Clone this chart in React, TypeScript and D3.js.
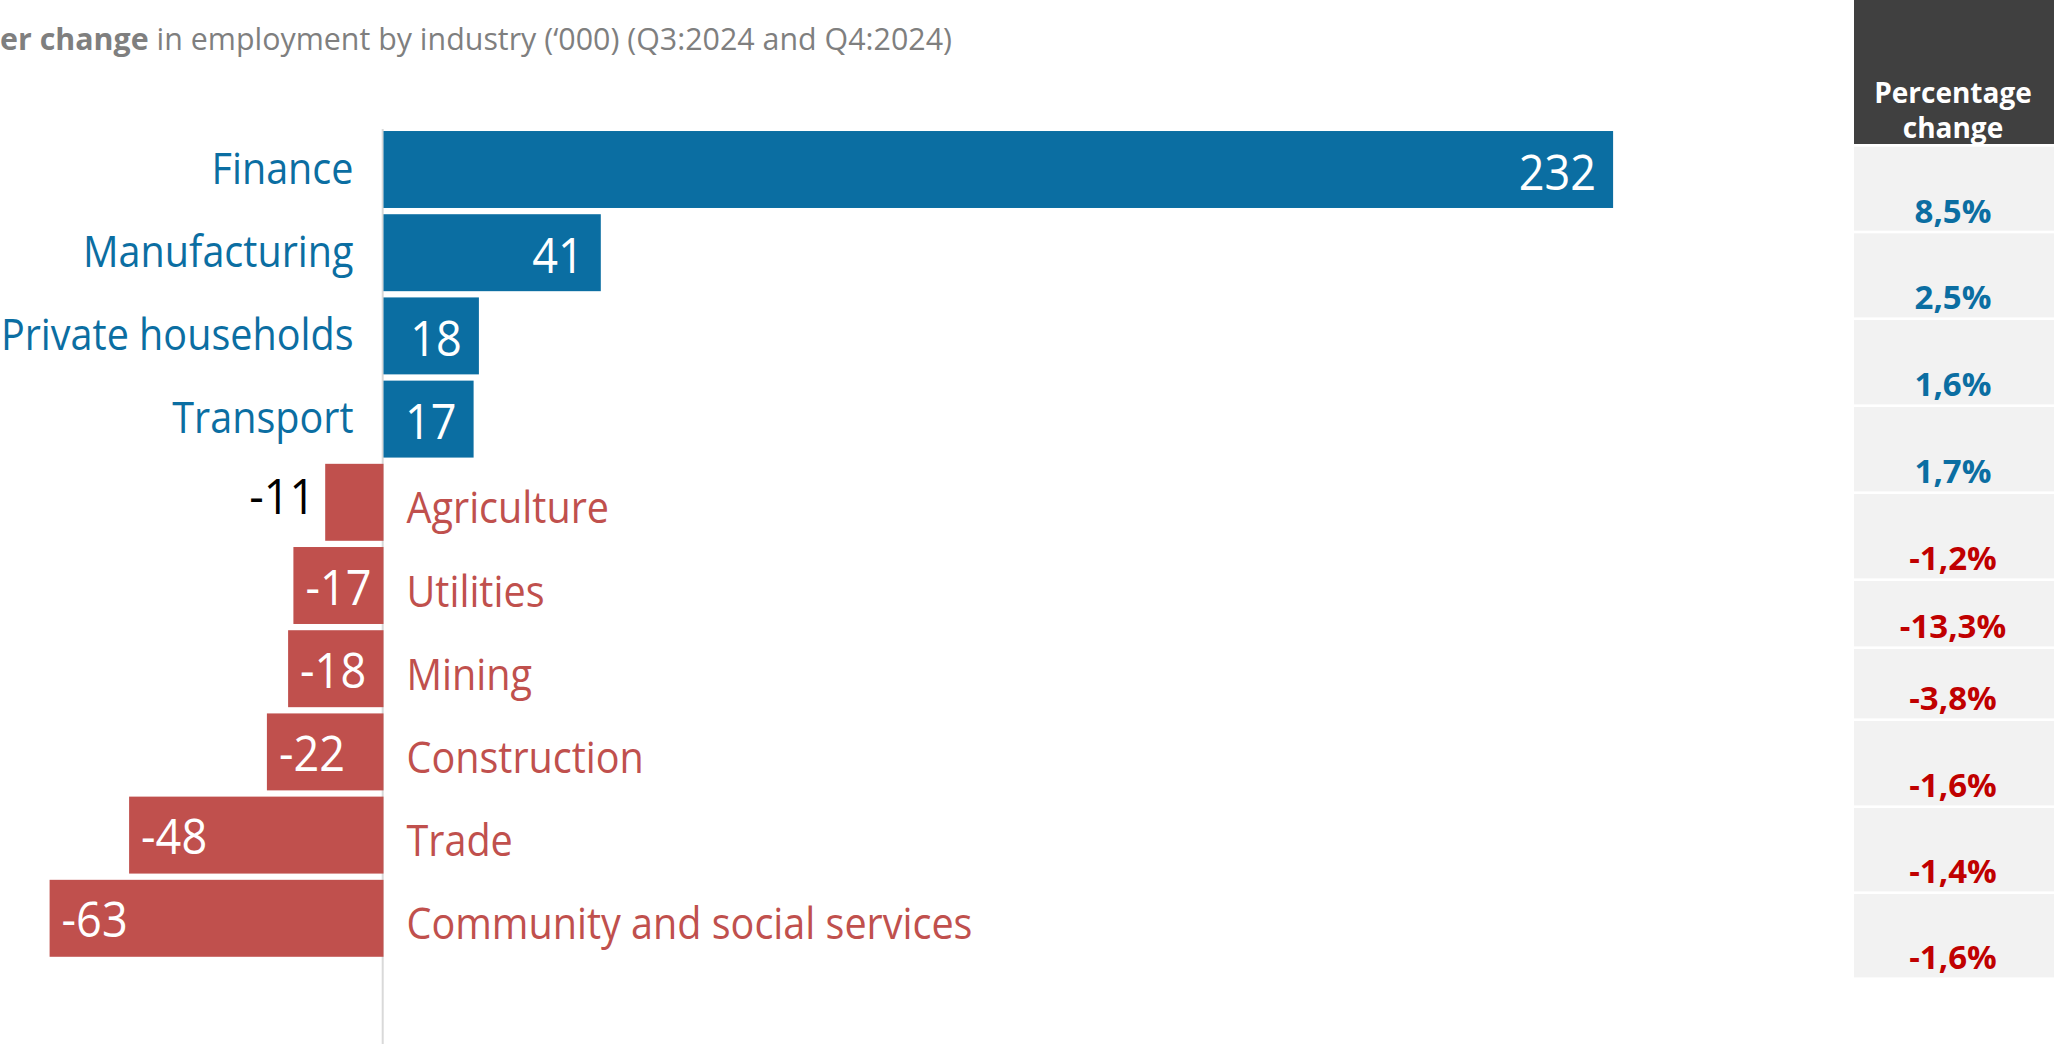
import React from "react";
import * as d3 from "d3";

// ---- data ----
const categories = [
  "Finance",
  "Manufacturing",
  "Private households",
  "Transport",
  "Agriculture",
  "Utilities",
  "Mining",
  "Construction",
  "Trade",
  "Community and social services",
];
const changes = [232, 41, 18, 17, -11, -17, -18, -22, -48, -63];
const pctChanges = [8.5, 2.5, 1.6, 1.7, -1.2, -13.3, -3.8, -1.6, -1.4, -1.6];
const titleBold = "er change";
const titleRest = " in employment by industry (\u2018000) (Q3:2024 and Q4:2024)";
const tableHeader = ["Percentage", "change"];

// ---- layout / style ----
const W = 2054;
const H = 1044;
const BLUE = "#0b6ea2";
const RED = "#c0504d";
const PCT_RED = "#c00000";
const FONT = "'Open Sans', 'Noto Sans', sans-serif";
const tableRowHeights = [86.6, 86.7, 87, 87, 87, 68, 72, 87, 86, 86];
const rowGap = 2.6;

export default function App() {
  const zeroX = 383.5;
  const unit = 5.3;
  const x = d3.scaleLinear().domain([0, 100]).range([zeroX, zeroX + 100 * unit]);
  const y = d3
    .scaleBand<string>()
    .domain(categories)
    .range([127.9, 127.9 + 832])
    .paddingInner(0.075)
    .paddingOuter(0.0375);

  const catScale = 0.92;
  const valScale = 0.92;
  const valSize = 49;

  // table rows
  const tableX = 1854;
  const tableTop = 146.7;
  let acc = tableTop;
  const rows = tableRowHeights.map((h) => {
    const r = { top: acc, bottom: acc + h - rowGap };
    acc += h;
    return r;
  });
  const fmtPct = (v: number) => d3.format(".1f")(v).replace(".", ",").replace("\u2212", "-") + "%";

  return (
    <svg
      width={W}
      height={H}
      style={{ position: "absolute", left: 0, top: 0, background: "#fff" }}
      fontFamily={FONT}
    >
      {/* title */}
      <text
        x={0}
        y={50}
        fontSize={31}
        fill="#7f7f7f"
        textLength={952}
        lengthAdjust="spacingAndGlyphs"
      >
        <tspan fontWeight="bold">{titleBold}</tspan>
        <tspan>{titleRest}</tspan>
      </text>

      {/* axis line */}
      <line x1={382.7} x2={382.7} y1={129} y2={H} stroke="#d9d9d9" strokeWidth={2} />

      {/* bars */}
      {categories.map((c, i) => {
        const v = changes[i];
        const x1 = x(Math.min(0, v));
        const x2 = x(Math.max(0, v));
        const by = y(c)!;
        const bh = y.bandwidth();
        const cy = by + bh / 2;
        const pos = v >= 0;
        const color = pos ? BLUE : RED;
        const width = x2 - x1;
        const outside = width < 80;
        let tx: number, ty: number, anchor: string, fill: string;
        if (pos) {
          tx = x2 - 17;
          ty = cy + 20;
          anchor = "end";
          fill = "#fff";
        } else if (outside) {
          tx = x1 - 10;
          ty = cy + 12;
          anchor = "end";
          fill = "#000";
        } else {
          tx = x1 + 12;
          ty = cy + 19;
          anchor = "start";
          fill = "#fff";
        }
        const lx = pos ? zeroX - 30 : zeroX + 23;
        const ly = pos ? cy + 14 : cy + 21;
        return (
          <g key={c}>
            <rect x={x1} y={by} width={width} height={bh} fill={color} />
            <text
              transform={`translate(${tx},${ty}) scale(${valScale},1)`}
              textAnchor={anchor}
              fontSize={valSize}
              fill={fill}
            >
              {v}
            </text>
            <text
              transform={`translate(${lx},${ly}) scale(${catScale},1)`}
              textAnchor={pos ? "end" : "start"}
              fontSize={43}
              fill={color}
            >
              {c}
            </text>
          </g>
        );
      })}

      {/* percentage table */}
      <rect x={tableX} y={0} width={W - tableX} height={144} fill="#404040" />
      <text x={1953} y={103} textAnchor="middle" fontSize={28} fontWeight="bold" fill="#fff">
        {tableHeader[0]}
      </text>
      <text x={1953} y={138} textAnchor="middle" fontSize={28} fontWeight="bold" fill="#fff">
        {tableHeader[1]}
      </text>
      {rows.map((r, i) => (
        <g key={i}>
          <rect x={tableX} y={r.top} width={W - tableX} height={r.bottom - r.top} fill="#f2f2f2" />
          <text
            x={1953}
            y={r.bottom - 8}
            textAnchor="middle"
            fontSize={33}
            fontWeight="bold"
            fill={pctChanges[i] >= 0 ? BLUE : PCT_RED}
          >
            {fmtPct(pctChanges[i])}
          </text>
        </g>
      ))}
    </svg>
  );
}
